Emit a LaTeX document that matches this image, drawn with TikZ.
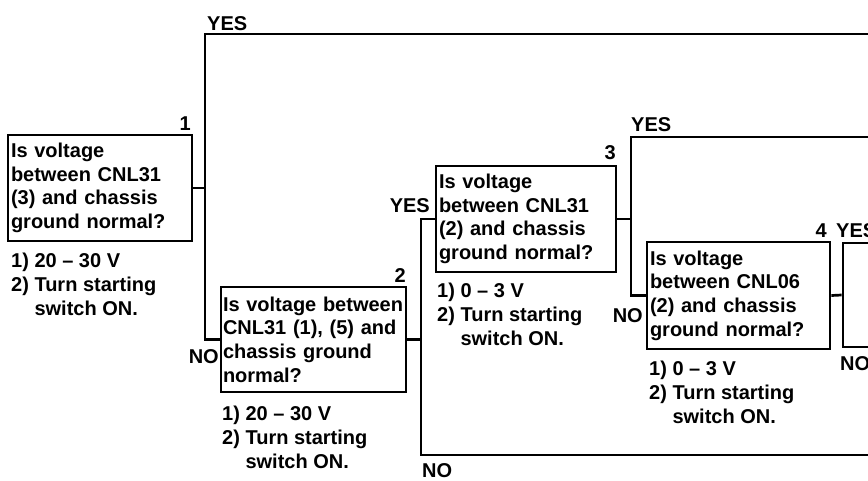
\documentclass[tikz,border=0pt]{standalone}
\usepackage{fontspec}
\setmainfont{Liberation Sans}
\newcommand{\dfont}{\bfseries\fontsize{20}{23.7}\selectfont}
\tikzset{
  qbox/.style={draw, line width=2.7pt, inner xsep=3pt, inner ysep=0pt, align=left, font=\dfont},
  note/.style={inner sep=0pt, align=left, anchor=north west, font=\dfont},
  lbl/.style={inner sep=0pt, font=\dfont},
  wire/.style={line width=2.7pt}
}
\begin{document}
\begin{tikzpicture}[x=1pt, y=-1pt]
\useasboundingbox (0,0) rectangle (868,480);
\clip (0,0) rectangle (868,480);
% decision boxes
\node[qbox, minimum width=184pt, minimum height=106pt, text width=178pt] (b1) at (100,188)
  {Is voltage\\between CNL31\\(3) and chassis\\ground normal?};
\node[qbox, inner xsep=2pt, minimum width=185pt, minimum height=105pt, text width=181pt] (b2) at (313.5,339.5)
  {\mbox{Is voltage between}\\\mbox{CNL31 (1), (5) and}\\chassis ground\\normal?};
\node[qbox, minimum width=180pt, minimum height=106pt, text width=174pt] (b3) at (526,219)
  {Is voltage\\between CNL31\\(2) and chassis\\ground normal?};
\node[qbox, minimum width=183pt, minimum height=107pt, text width=177pt] (b4) at (738.5,295.5)
  {Is voltage\\between CNL06\\(2) and chassis\\ground normal?};
\node[qbox, minimum width=120pt, minimum height=104pt, text width=114pt] (b5) at (903,295) {};
% step numbers
\node[lbl, anchor=base east] (n1) at (191,130) {1};
\node[lbl, anchor=base east] (n2) at (406,282) {2};
\node[lbl, anchor=base east] (n3) at (616,159) {3};
\node[lbl, anchor=base east] (n4) at (827,237) {4};
% notes
\node[note] (f1) at (11,253) {1) 20 -- 30 V\\2) Turn starting\\\hphantom{2)} switch ON.};
\node[note] (f2) at (222,406) {1) 20 -- 30 V\\2) Turn starting\\\hphantom{2)} switch ON.};
\node[note] (f3) at (437,283) {1) 0 -- 3 V\\2) Turn starting\\\hphantom{2)} switch ON.};
\node[note] (f4) at (649,361) {1) 0 -- 3 V\\2) Turn starting\\\hphantom{2)} switch ON.};
% branch labels
\node[lbl, anchor=base west] (y1) at (207,30) {YES};
\node[lbl, anchor=base east] (no1) at (219,363) {NO};
\node[lbl, anchor=base east] (y2) at (430,212) {YES};
\node[lbl, anchor=base west] (no2) at (422,477) {NO};
\node[lbl, anchor=base west] (y3) at (631,131) {YES};
\node[lbl, anchor=base east] (no3) at (643,322) {NO};
\node[lbl, anchor=base west] (y4) at (836,237) {YES};
\node[lbl, anchor=base west] (no4) at (840,370) {NO};
% connectors
\coordinate (t1) at (205,34);
\coordinate (e1) at (875,34);
\draw[wire] (b1.east) -- (b1.east -| t1);
\draw[wire] (e1) -- (t1) -- (t1 |- b2.west) -- (b2.west);
\coordinate (x2) at (421,455);
\coordinate (e2) at (875,455);
\draw[wire] (b2.east) -- (b2.east -| x2);
\draw[wire] (b3.west) -- (b3.west -| x2) -- (x2) -- (e2);
\coordinate (t3) at (631,137);
\coordinate (e3) at (875,137);
\draw[wire] (b3.east) -- (b3.east -| t3);
\draw[wire] (e3) -- (t3) -- (t3 |- b4.west) -- (b4.west);
\draw[wire] (b4.east) -- (b5.west);
\end{tikzpicture}
\end{document}
